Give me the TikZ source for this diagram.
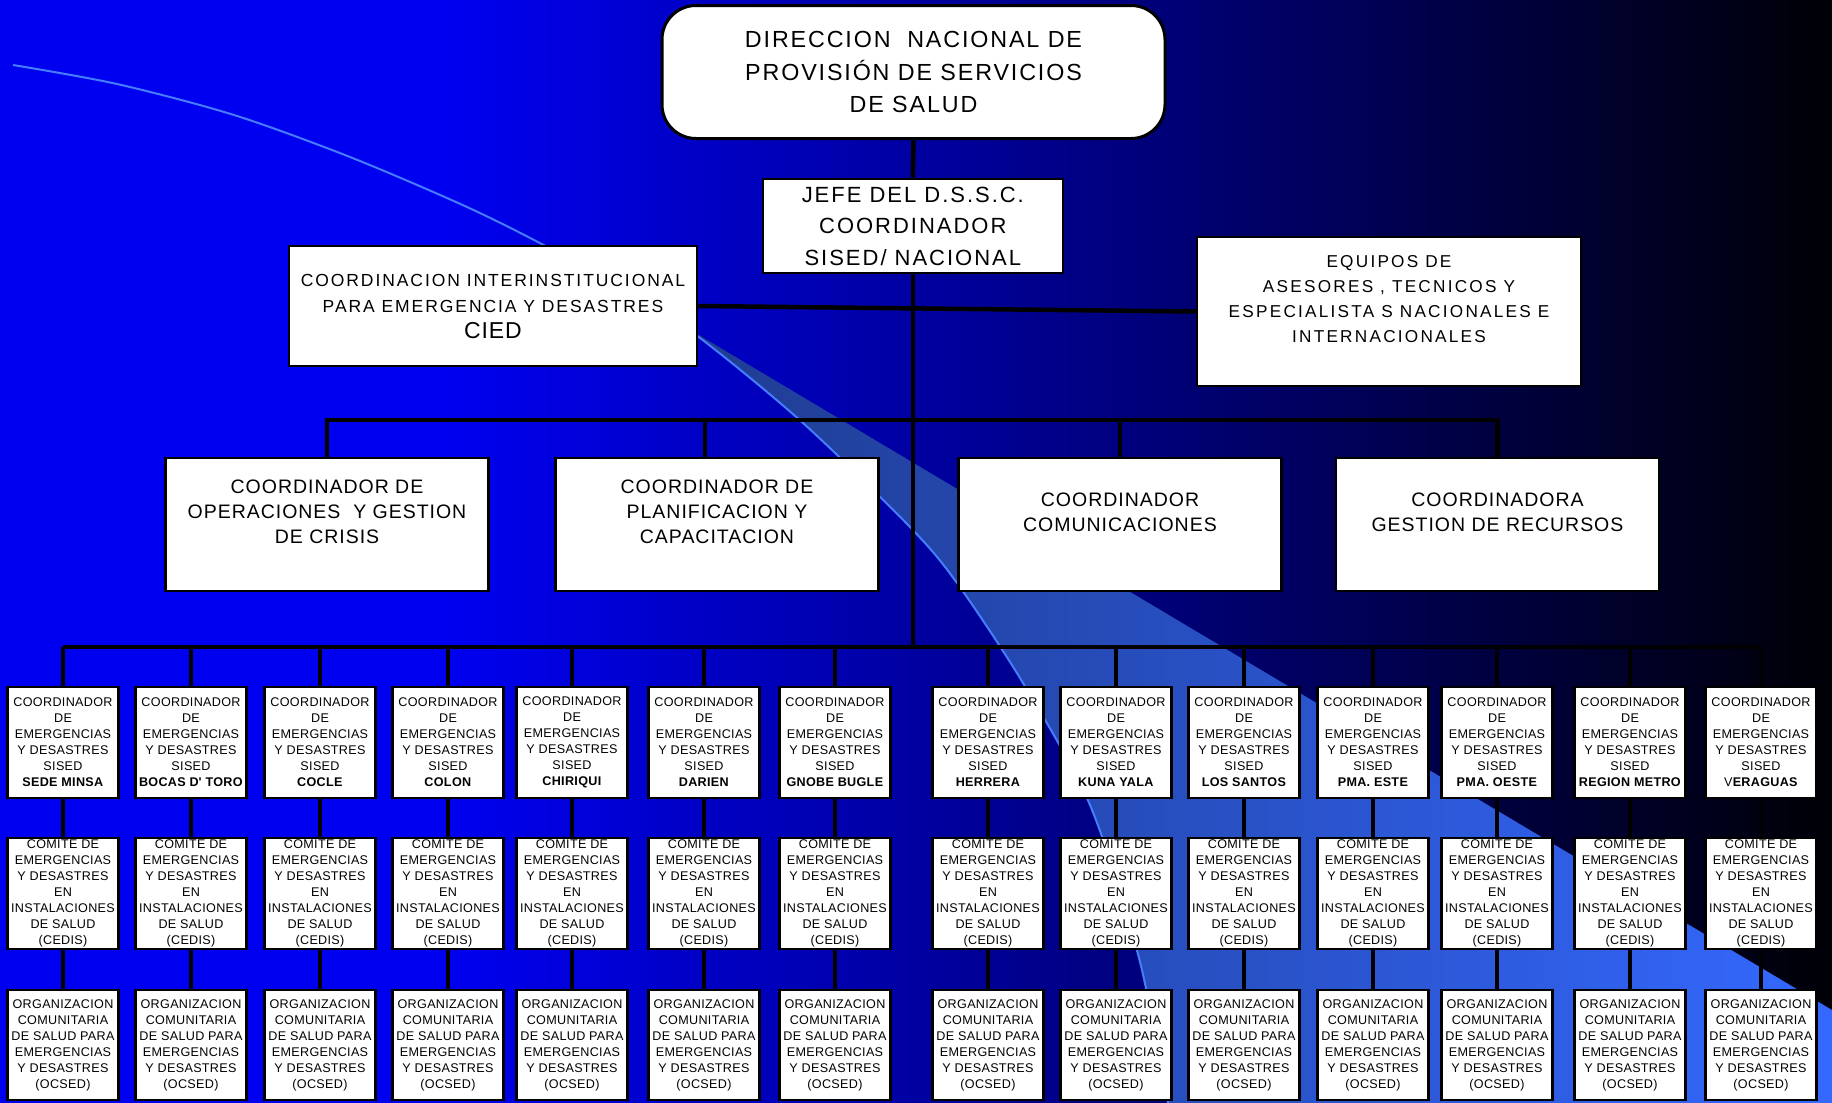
\documentclass[tikz,border=0pt]{standalone}
\usepackage{fontspec}
\setmainfont{Liberation Sans}

\definecolor{bgblue}{RGB}{0,0,240}
\definecolor{bgdark}{RGB}{0,0,6}
\definecolor{bandgray}{RGB}{30,58,140}
\definecolor{bandblue}{RGB}{52,104,255}
\definecolor{arcblue}{RGB}{70,125,255}

\newcommand{\spaced}[1]{\addfontfeatures{LetterSpace=#1}}

\begin{document}
\begin{tikzpicture}[x=1pt, y=-1pt,
    box/.style={draw, line width=2.5pt, fill=white, inner sep=0pt, align=center},
    unitbox/.style={box, minimum width=111pt, minimum height=111pt, font=\fontsize{12.6}{16}\selectfont\spaced{2.5}},
    coordbox/.style={box, minimum width=323pt, minimum height=133pt, font=\fontsize{19.5}{25.3}\selectfont\spaced{5}},
    bus/.style={line width=4.5pt}]
       \useasboundingbox (0,0) rectangle (1832,1103);

       % background
       \fill[bgblue] (0,0) rectangle (452,1103);
       \shade[left color=bgblue, right color=bgdark] (450,0) rectangle (1832,1103);

       % light band and arc
       \shade[left color=bandgray, right color=bandblue] (640,300) -- (1832,1010) -- (1832,1103)
           -- plot[smooth] coordinates {(1168,1103) (1139,958) (1090,805) (1023,683) (957,583) (910,527) (803,423) (700,338) (640,300)} -- cycle;
       \draw[arcblue, line width=2pt] plot[smooth] coordinates {(13,65) (117,84) (234,115) (350,157) (467,207) (553,250)
           (640,300) (700,338) (803,423) (910,527) (957,583) (1023,683) (1090,805) (1139,958) (1168,1103)};

       % national level
       \node[box, line width=3pt, rounded corners=34pt, minimum width=503pt, minimum height=133pt,
             font=\fontsize{23.3}{32.7}\selectfont\spaced{8}] (dir) at (913.5,72) {DIRECCION~ NACIONAL DE\\PROVISIÓN DE SERVICIOS\\DE SALUD};
       \node[box, minimum width=300pt, minimum height=94pt, font=\fontsize{22}{31.5}\selectfont\spaced{9}] (jefe) at (912.8,226) {JEFE DEL D.S.S.C.\\COORDINADOR\\SISED/ NACIONAL};
       \node[box, minimum width=408pt, minimum height=120pt, font=\fontsize{17.5}{26}\selectfont\spaced{11}] (cied) at (493,306)
           {COORDINACION INTERINSTITUCIONAL\\PARA EMERGENCIA Y DESASTRES\\{\fontsize{23}{29}\selectfont\spaced{4}CIED}};
       \node[box, minimum width=384pt, minimum height=149pt, font=\fontsize{17.2}{24.8}\selectfont\spaced{13}] (equip) at (1389,311.5)
           {EQUIPOS DE\\ASESORES , TECNICOS Y\\ESPECIALISTA S NACIONALES E\\INTERNACIONALES\\~};

       % coordinators
       \node[coordbox] (op) at (327,524.5) {COORDINADOR DE\\OPERACIONES~ Y GESTION\\DE CRISIS\\~};
       \node[coordbox] (pl) at (717,524.5) {COORDINADOR DE\\PLANIFICACION Y\\CAPACITACION\\~};
       \node[coordbox] (cm) at (1120,524.5) {COORDINADOR\\COMUNICACIONES\\~};
       \node[coordbox] (ge) at (1497.5,524.5) {COORDINADORA\\GESTION DE RECURSOS\\~};

       \coordinate (bus2) at (912,420);
       \coordinate (bus3) at (912,647);

       \draw[bus] (dir.south) -- (jefe.north);
       \draw[bus] (jefe.south) -- (jefe.south |- bus3);
       \draw[bus] (cied.east) -- (equip.west);
       \draw[bus] (op.north) -- (op.north |- bus2) -- (ge.north |- bus2) -- (ge.north);
       \draw[bus] ([xshift=-12pt]pl.north) -- ([xshift=-12pt]pl.north |- bus2);
       \draw[bus] (cm.north) -- (cm.north |- bus2);

       % regions: coordinator, CEDIS, OCSED
       \foreach \i/\x/\reg in {1/63/{\textbf{SEDE MINSA}}, 2/191/{\textbf{BOCAS D\textquotesingle{} TORO}}, 3/320/{\textbf{COCLE}},
                               4/448/{\textbf{COLON}}, 5/572/{\textbf{CHIRIQUI}}, 6/704/{\textbf{DARIEN}},
                               7/835/{\textbf{GNOBE BUGLE}}, 8/988/{\textbf{HERRERA}}, 9/1116/{\textbf{KUNA YALA}},
                               10/1244/{\textbf{LOS SANTOS}}, 11/1373/{\textbf{PMA. ESTE}}, 12/1497/{\textbf{PMA. OESTE}},
                               13/1630/{\textbf{REGION METRO}}, 14/1761/{V\textbf{ERAGUAS}}}{
       \node[unitbox] (co\i) at (\x,742.5) {COORDINADOR\\DE\\EMERGENCIAS\\Y DESASTRES\\SISED\\\reg};
       \node[unitbox] (ce\i) at (\x,893.5) {COMITE DE\\EMERGENCIAS\\Y DESASTRES\\EN\\INSTALACIONES\\DE SALUD\\(CEDIS)};
       \node[unitbox, minimum height=110pt] (oc\i) at (\x,1045) {ORGANIZACION\\COMUNITARIA\\DE SALUD PARA\\EMERGENCIAS\\Y DESASTRES\\(OCSED)};
       \draw[bus] (co\i.north) -- (co\i.north |- bus3);
       \draw[bus] (co\i.south) -- (ce\i.north);
       \draw[bus] (ce\i.south) -- (oc\i.north);
       }
       \draw[bus] (co1.north |- bus3) -- (co14.north |- bus3);
      \end{tikzpicture}
\end{document}
